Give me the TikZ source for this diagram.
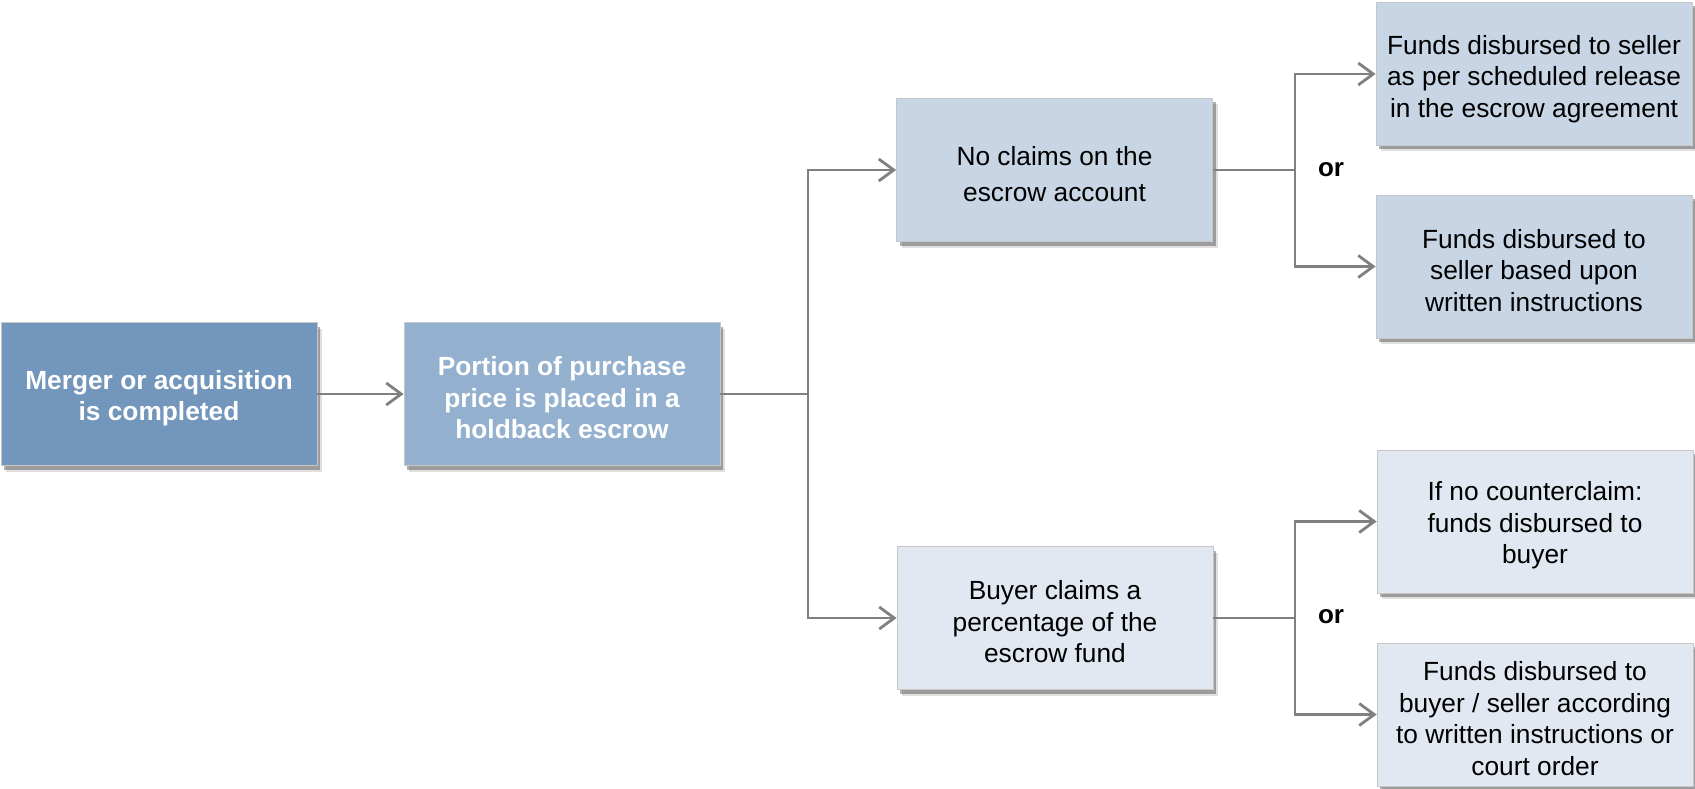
\documentclass[tikz,border=0pt]{standalone}
\usepackage{fontspec}
\setmainfont{Liberation Sans}
\usetikzlibrary{arrows.meta,shadows}
\definecolor{cDark}{HTML}{7296BC}
\definecolor{cMid}{HTML}{93B1CF}
\definecolor{cLight}{HTML}{C8D5E5}
\definecolor{cPale}{HTML}{E1E8F1}
\definecolor{cLine}{HTML}{808080}
\tikzset{
  box/.style={rectangle, minimum width=316pt, minimum height=143pt, inner sep=0pt,
    draw=black!22, line width=0.8pt,
    drop shadow={shadow xshift=5pt, shadow yshift=-6pt, fill=black, opacity=0.12},
    drop shadow={shadow xshift=3pt, shadow yshift=-4pt, fill=black, opacity=0.30}},
  txt/.style={align=center, inner sep=0pt, font=\fontsize{26.3}{31.5}\selectfont},
  boldtxt/.style={txt, text=white, font=\fontsize{26.3}{31.5}\selectfont\bfseries},
  conn/.style={draw=cLine, line width=2.8pt, -{Straight Barb[length=15pt,width=22pt,line width=2.8pt]}},
  line/.style={draw=cLine, line width=2.8pt},
  orlabel/.style={font=\fontsize{26}{30}\selectfont\bfseries, inner sep=0pt}
}
\begin{document}
\begin{tikzpicture}[x=1pt,y=-1pt]
\useasboundingbox (0,0) rectangle (1695,789);
\node[box, fill=cDark] (A) at (159,394) {};
\node[box, fill=cMid] (B) at (562,394) {};
\node[box, fill=cLight] (C) at (1054.5,170) {};
\node[box, fill=cPale] (D) at (1055,618) {};
\node[box, fill=cLight] (E) at (1534,74) {};
\node[box, fill=cLight] (F) at (1534,266.5) {};
\node[box, fill=cPale] (G) at (1535,521.5) {};
\node[box, fill=cPale] (H) at (1535,714.5) {};
\node[boldtxt] (At) at ([yshift=-4pt]A.center) {Merger or acquisition\\is completed};
\node[boldtxt] (Bt) at ([yshift=-4pt]B.center) {Portion of purchase\\price is placed in a\\holdback escrow};
\node[txt, font=\fontsize{26.3}{36}\selectfont] (Ct) at ([yshift=-4pt]C.center) {No claims on the\\escrow account};
\node[txt] (Dt) at ([yshift=-4pt]D.center) {Buyer claims a\\percentage of the\\escrow fund};
\node[txt] (Et) at ([yshift=-5pt]E.center) {Funds disbursed to seller\\as per scheduled release\\in the escrow agreement};
\node[txt] (Ft) at ([yshift=-4pt]F.center) {Funds disbursed to\\seller based upon\\written instructions};
\node[txt] (Gt) at ([yshift=-4pt]G.center) {If no counterclaim:\\funds disbursed to\\buyer};
\node[txt] (Ht) at ([yshift=-4pt]H.center) {Funds disbursed to\\buyer / seller according\\to written instructions or\\court order};
\coordinate (j1) at (808,394);
\coordinate (j2) at (1295,170);
\coordinate (j3) at (1295,618);
\draw[conn] (A.east) -- (B.west);
\draw[line] (B.east) -- (j1);
\draw[conn] (j1) |- (C.west);
\draw[conn] (j1) |- (D.west);
\draw[line] (C.east) -- (j2);
\draw[conn] (j2) |- (E.west);
\draw[conn] (j2) |- (F.west);
\draw[line] (D.east) -- (j3);
\draw[conn] (j3) |- (G.west);
\draw[conn] (j3) |- (H.west);
\node[orlabel] (or1) at (1331,170) {or};
\node[orlabel] (or2) at (1331,617) {or};
\end{tikzpicture}
\end{document}
